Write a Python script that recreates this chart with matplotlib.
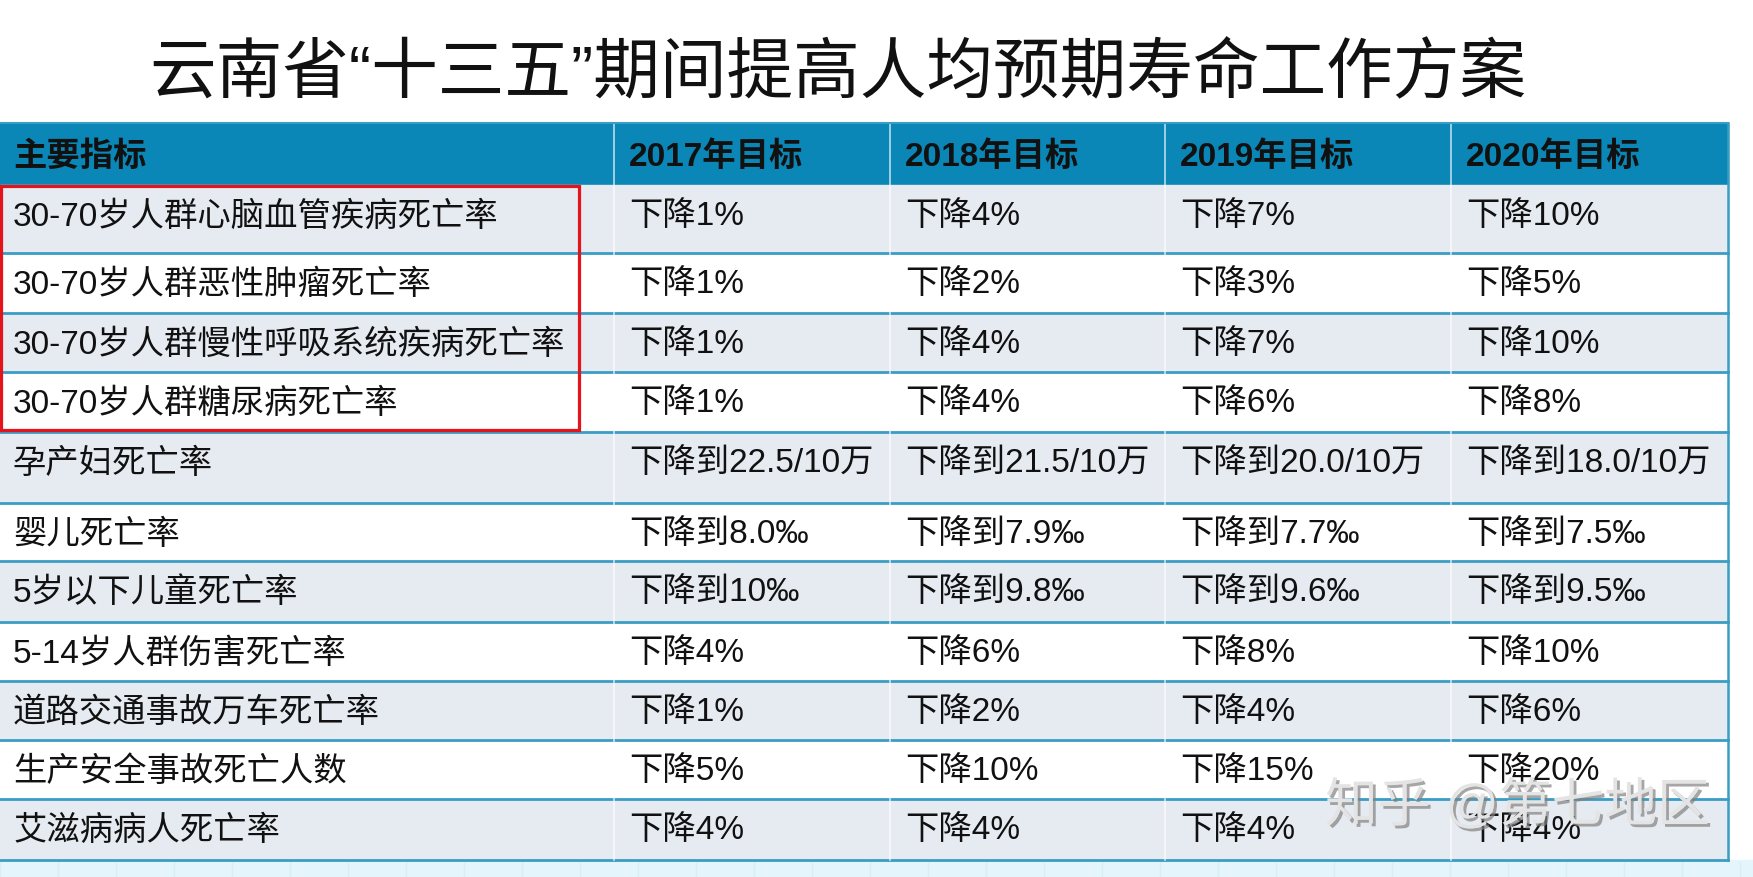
import matplotlib
matplotlib.use("Agg")
import matplotlib.pyplot as plt
from matplotlib.patches import Rectangle
import matplotlib.patheffects as pe

plt.rcParams['font.family'] = ['Liberation Sans', 'Noto Sans CJK SC', 'DejaVu Sans']

title = "云南省“十三五”期间提高人均预期寿命工作方案"
header0 = "主要指标"
years = [2017, 2018, 2019, 2020]

indicators = ["30-70岁人群心脑血管疾病死亡率",
              "30-70岁人群恶性肿瘤死亡率",
              "30-70岁人群慢性呼吸系统疾病死亡率",
              "30-70岁人群糖尿病死亡率",
              "孕产妇死亡率",
              "婴儿死亡率",
              "5岁以下儿童死亡率",
              "5-14岁人群伤害死亡率",
              "道路交通事故万车死亡率",
              "生产安全事故死亡人数",
              "艾滋病病人死亡率"]

t2017 = ["下降1%", "下降1%", "下降1%", "下降1%", "下降到22.5/10万", "下降到8.0‰",
         "下降到10‰", "下降4%", "下降1%", "下降5%", "下降4%"]
t2018 = ["下降4%", "下降2%", "下降4%", "下降4%", "下降到21.5/10万", "下降到7.9‰",
         "下降到9.8‰", "下降6%", "下降2%", "下降10%", "下降4%"]
t2019 = ["下降7%", "下降3%", "下降7%", "下降6%", "下降到20.0/10万", "下降到7.7‰",
         "下降到9.6‰", "下降8%", "下降4%", "下降15%", "下降4%"]
t2020 = ["下降10%", "下降5%", "下降10%", "下降8%", "下降到18.0/10万", "下降到7.5‰",
         "下降到9.5‰", "下降10%", "下降6%", "下降20%", "下降4%"]
targets = [t2017, t2018, t2019, t2020]

# layout in pixels
col_edges = [0, 614, 890, 1165, 1451, 1728]
row_edges = [124, 186, 254, 314, 373, 433, 504, 562, 623, 682, 741, 800, 861]

head_c = '#0A87B7'
band_c = '#E6EBF2'
line_c = '#3A9DC4'

fig = plt.figure(figsize=(17.53, 8.78), dpi=100)
ax = fig.add_axes([0, 0, 1, 1])
ax.set_xlim(0, 1753)
ax.set_ylim(878, 0)
ax.axis('off')

# background strip under the table
ax.add_patch(Rectangle((0, 861), 1753, 17, color='#E4F5FB', zorder=0))
for gx in range(0, 1753, 58):
    ax.plot([gx, gx], [863, 878], color='#D8EFF7', lw=1, zorder=0)

ax.text(838, 76, title, fontsize=48, ha='center', va='center', color='#111111')

W = col_edges[-1]
# header
ax.add_patch(Rectangle((0, row_edges[0]), W, row_edges[1] - row_edges[0], color=head_c, zorder=1))
heads = [header0] + [f"{y}年目标" for y in years]
for j, h in enumerate(heads):
    x = col_edges[j] + (13 if j == 0 else 15)
    ax.text(x, row_edges[0] + 33, h, fontsize=24, fontweight='bold', ha='left', va='center',
            color='#111111', zorder=3)

# body rows
for i, name in enumerate(indicators):
    top, bot = row_edges[i + 1], row_edges[i + 2]
    fc = band_c if i % 2 == 0 else 'white'
    ax.add_patch(Rectangle((0, top), W, bot - top, color=fc, zorder=1))
    ax.plot([0, W], [bot, bot], color=line_c, lw=2, zorder=2)
    ax.text(13, top + 31, name, fontsize=24, ha='left', va='center', color='#111111', zorder=3)
    for j, col in enumerate(targets):
        ax.text(col_edges[j + 1] + 15, top + 31, col[i], fontsize=24, ha='left', va='center',
                color='#111111', zorder=3)

# column separators
for cx in col_edges[1:-1]:
    ax.plot([cx, cx], [row_edges[0], row_edges[-1]], color='white', lw=1.2, alpha=0.7, zorder=2)
ax.plot([W, W], [row_edges[0], row_edges[-1]], color=line_c, lw=1.8, zorder=2)
ax.plot([0, W], [row_edges[0], row_edges[0]], color=line_c, lw=1.5, zorder=2)

# red highlight box
ax.add_patch(Rectangle((1.5, 187), 578, 244, fill=False, ec='#E3141C', lw=2.3, zorder=4))

# watermark
ax.text(1325, 807, "知乎 @第七地区", fontsize=38, ha='left', va='center', color='#E4E4E4', zorder=5,
        path_effects=[pe.withSimplePatchShadow(offset=(2, -2), shadow_rgbFace='#808080', alpha=0.7)])

fig.savefig('out.png', dpi=100)
